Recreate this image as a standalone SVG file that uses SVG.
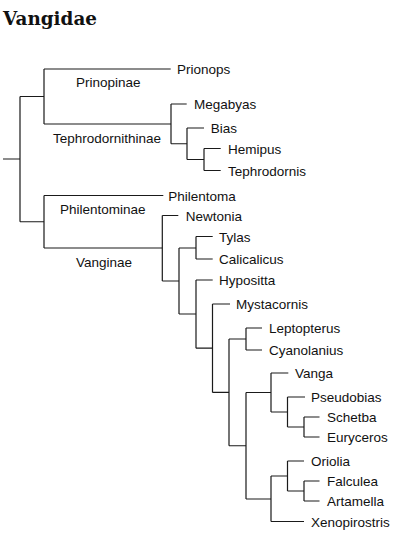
<svg xmlns="http://www.w3.org/2000/svg" width="400" height="535" viewBox="0 0 400 535">
<style>
.e{fill:none;stroke:#1a1a1a;stroke-width:1.2}
.t{font-family:"Liberation Sans",Arial,sans-serif;font-size:13.5px;fill:#111}
.title{font-family:"DejaVu Serif","Liberation Serif",serif;font-weight:bold;font-size:18px;fill:#111}
</style>
<rect width="400" height="535" fill="#fff"/>
<text class="title" x="3" y="25" textLength="94" lengthAdjust="spacingAndGlyphs">Vangidae</text>
<g id="connectors">
<path class="e" d="M3 159H20M20 96.5V221.75M20 96.5H44M20 221.75H44"/>
<path class="e" d="M44 69V124M44 69H170.7M44 124H171"/>
<path class="e" d="M171 104V143.75M171 104H186.7M171 143.75H187"/>
<path class="e" d="M187 128V159.5M187 128H204M187 159.5H204"/>
<path class="e" d="M204 148.5V170.5M204 148.5H220.7M204 170.5H220.7"/>
<path class="e" d="M44 195.5V248M44 195.5H163.3M44 248H162.3"/>
<path class="e" d="M162.3 215.5V281M162.3 215.5H178.3M162.3 281H179"/>
<path class="e" d="M179 248V314M179 248H196M179 314H196"/>
<path class="e" d="M196 236.5V259M196 236.5H212.7M196 259H212.7"/>
<path class="e" d="M196 280V348.2M196 280H212.7M196 348.2H212.5"/>
<path class="e" d="M212.5 304V392.4M212.5 304H230M212.5 392.4H229"/>
<path class="e" d="M229 339V445.75M229 339H246M229 445.75H246"/>
<path class="e" d="M246 328V350M246 328H262M246 350H262"/>
<path class="e" d="M246 392.5V499M246 392.5H271M246 499H271"/>
<path class="e" d="M271 373V412M271 373H288.3M271 412H287.5"/>
<path class="e" d="M287.5 397V427M287.5 397H305M287.5 427H304"/>
<path class="e" d="M304 417V437M304 417H319.5M304 437H319.5"/>
<path class="e" d="M271 476V521.5M271 476H287.5M271 521.5H304"/>
<path class="e" d="M287.5 461V491M287.5 461H304M287.5 491H304"/>
<path class="e" d="M304 481V501M304 481H319.5M304 501H319.5"/>
</g>
<g id="clade-labels">
<text class="t" x="76" y="87">Prinopinae</text>
<text class="t" x="53" y="142.5">Tephrodornithinae</text>
<text class="t" x="60" y="214">Philentominae</text>
<text class="t" x="76" y="267">Vanginae</text>
</g>
<g id="prionops"><text class="t" x="177" y="74">Prionops</text></g>
<g id="megabyas"><text class="t" x="194" y="109">Megabyas</text></g>
<g id="bias"><text class="t" x="210.7" y="133">Bias</text></g>
<g id="hemipus"><text class="t" x="228" y="153.5">Hemipus</text></g>
<g id="tephrodornis"><text class="t" x="228" y="175.5">Tephrodornis</text></g>
<g id="philentoma"><text class="t" x="168.3" y="200.5">Philentoma</text></g>
<g id="newtonia"><text class="t" x="185.7" y="220.5">Newtonia</text></g>
<g id="tylas"><text class="t" x="219" y="241.5">Tylas</text></g>
<g id="calicalicus"><text class="t" x="219" y="264">Calicalicus</text></g>
<g id="hypositta"><text class="t" x="219" y="285">Hypositta</text></g>
<g id="mystacornis"><text class="t" x="236" y="309">Mystacornis</text></g>
<g id="leptopterus"><text class="t" x="269" y="333">Leptopterus</text></g>
<g id="cyanolanius"><text class="t" x="269" y="355">Cyanolanius</text></g>
<g id="vanga"><text class="t" x="295" y="378">Vanga</text></g>
<g id="pseudobias"><text class="t" x="311" y="402">Pseudobias</text></g>
<g id="schetba"><text class="t" x="327" y="422">Schetba</text></g>
<g id="euryceros"><text class="t" x="327" y="442">Euryceros</text></g>
<g id="oriolia"><text class="t" x="311" y="466">Oriolia</text></g>
<g id="falculea"><text class="t" x="327" y="486">Falculea</text></g>
<g id="artamella"><text class="t" x="327" y="506">Artamella</text></g>
<g id="xenopirostris"><text class="t" x="311" y="526.5">Xenopirostris</text></g>
</svg>
